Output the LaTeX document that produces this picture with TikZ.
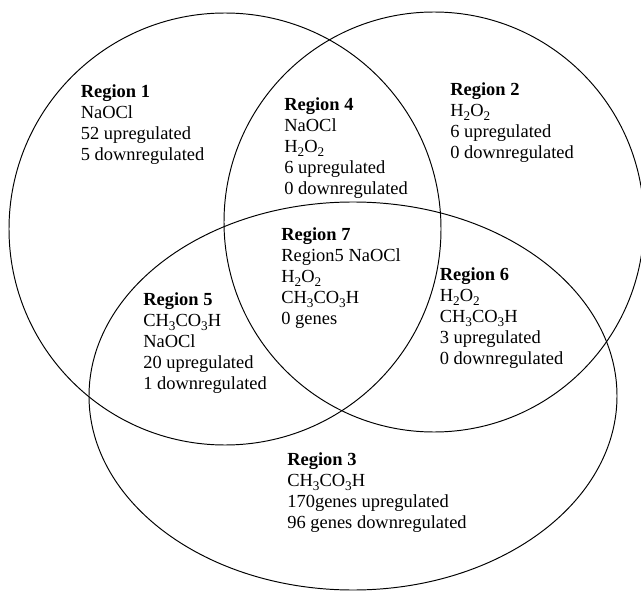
\documentclass[tikz,border=0pt]{standalone}
\usepackage{fontspec}
\setmainfont{Liberation Serif}
\usetikzlibrary{positioning}
\newcommand{\chemsub}[1]{\raisebox{-0.45ex}{\fontsize{7.5}{8}\selectfont #1}}
\newcommand{\hydperox}{H\chemsub{2}O\chemsub{2}}
\newcommand{\peracetic}{CH\chemsub{3}CO\chemsub{3}H}
\tikzset{
  setline/.style={line width=0.55pt},
  regiontext/.style={anchor=north west,align=left,inner sep=0pt,
    font=\fontsize{10.5}{12}\selectfont}
}

\begin{document}
\begin{tikzpicture}
\useasboundingbox (0,0) rectangle (12.82,11.80);
% three treatment sets
\draw[setline] (4.50,7.22) circle (4.32);              % NaOCl
\draw[setline] (8.68,7.36) circle (4.20);              % H2O2
\draw[setline] (7.06,3.88) ellipse (5.28 and 3.88);   % CH3CO3H
% single treatments
\node[regiontext] (reg1) at (1.61,10.12) {\textbf{Region 1}\\NaOCl\\52 upregulated\\5 downregulated};
\node[regiontext] (reg2) at (9.00,10.16) {\textbf{Region 2}\\\hydperox\\6 upregulated\\0 downregulated};
\node[regiontext] (reg3) at (5.74,2.76) {\textbf{Region 3}\\\peracetic\\170genes upregulated\\96 genes downregulated};
% overlaps
\node[regiontext] (reg4) at (5.68,9.86) {\textbf{Region 4}\\NaOCl\\\hydperox\\6 upregulated\\0 downregulated};
\node[regiontext] (reg5) at (2.86,5.96) {\textbf{Region 5}\\\peracetic\\NaOCl\\20 upregulated\\1 downregulated};
\node[regiontext] (reg6) at (8.79,6.46) {\textbf{Region 6}\\\hydperox\\\peracetic\\3 upregulated\\0 downregulated};
\node[regiontext] (reg7) at (5.62,7.26) {\textbf{Region 7}\\Region5 NaOCl\\\hydperox\\\peracetic\\0 genes};
\end{tikzpicture}
\end{document}
